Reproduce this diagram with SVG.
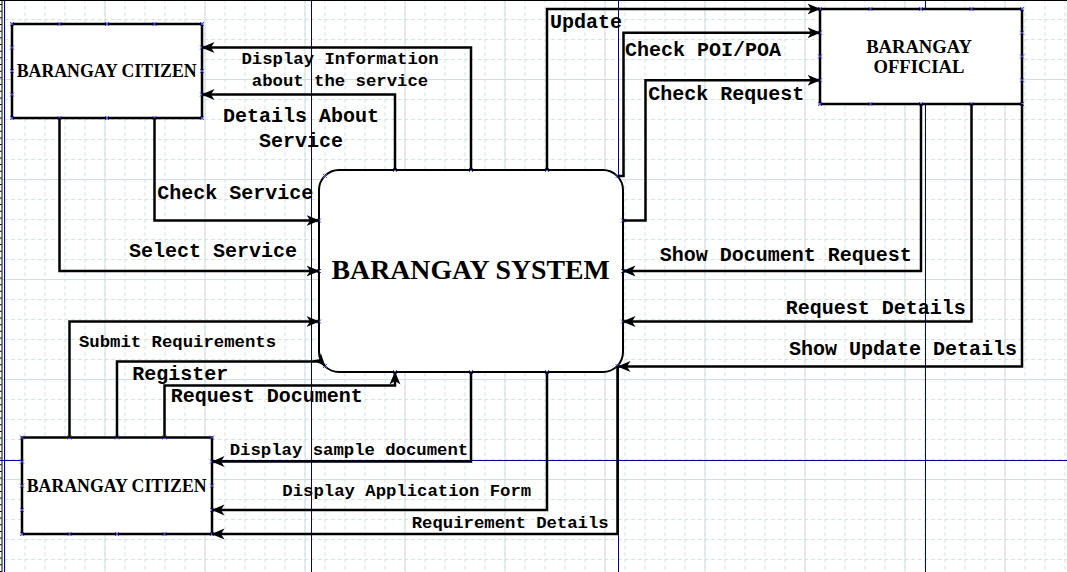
<svg xmlns="http://www.w3.org/2000/svg" width="1067" height="572" viewBox="0 0 1067 572">
<style>
.box{fill:#fff;stroke:#000;stroke-width:2.5}
.sys{fill:#fff;stroke:#000;stroke-width:2}
.nt{font-family:"Liberation Serif","Times New Roman",serif;font-weight:bold;fill:#000;text-anchor:middle}
.cn{fill:none;stroke:#000;stroke-width:2.5;marker-end:url(#ah)}
.lb{font-family:"Liberation Mono","Courier New",monospace;font-weight:bold;fill:#000}
.l20{font-size:20px}
.l17{font-size:17.3px}
.pg{stroke:#0000a0;stroke-width:1;fill:none}
.cp{stroke:#4a4af0;stroke-width:1;fill:none}
</style>
<defs>
<pattern id="minor" patternUnits="userSpaceOnUse" x="4.5" y="19" width="20" height="20">
<path d="M0.5,0 V20 M0,0.5 H20" stroke="#d3e1e1" stroke-width="1" stroke-dasharray="3.67,3" fill="none"/>
</pattern>
<pattern id="major" patternUnits="userSpaceOnUse" x="4.5" y="79" width="100" height="100">
<path d="M0.5,0 V100 M0,0.5 H100" stroke="#d0dfdf" stroke-width="1" fill="none"/>
</pattern>
<marker id="ah" markerUnits="userSpaceOnUse" viewBox="0 0 13 12" markerWidth="13" markerHeight="12" refX="12.5" refY="6" orient="auto">
<path d="M0,0.5 L13,6 L0,11.5 L3.5,6 z" fill="#000"/>
</marker>
<path id="x" class="cp" d="M-2,-2 L2,2 M-2,2 L2,-2"/>
</defs>

<g id="background">
<rect x="0" y="0" width="1067" height="572" fill="#fff"/>
<rect x="0" y="0" width="1067" height="572" fill="url(#minor)"/>
<rect x="0" y="0" width="1067" height="572" fill="url(#major)"/>
<path class="pg" d="M4.5,0 V572 M311.5,0 V572 M618.5,0 V572 M925.5,0 V572 M0,460.5 H1067"/>
<path d="M0,0.5 H1067 M2,0 V572" stroke="#000" stroke-width="1" fill="none"/>
<path d="M0.8,4 V572" stroke="#000" stroke-width="1.6" stroke-dasharray="1,5.67" fill="none"/>
</g>

<g id="citizen-top">
<rect class="box" x="12" y="24" width="190" height="94"/>
<text class="nt" x="106.7" y="77.3" font-size="17.8">BARANGAY CITIZEN</text>
<use href="#x" x="12" y="24"/><use href="#x" x="59.5" y="24"/><use href="#x" x="107" y="24"/><use href="#x" x="154.5" y="24"/><use href="#x" x="202" y="24"/>
<use href="#x" x="12" y="118"/><use href="#x" x="59.5" y="118"/><use href="#x" x="107" y="118"/><use href="#x" x="154.5" y="118"/><use href="#x" x="202" y="118"/>
<use href="#x" x="12" y="47.5"/><use href="#x" x="12" y="71"/><use href="#x" x="12" y="94.5"/>
<use href="#x" x="202" y="47.5"/><use href="#x" x="202" y="71"/><use href="#x" x="202" y="94.5"/>
</g>

<g id="citizen-bottom">
<rect class="box" x="22" y="437.5" width="190" height="96.5"/>
<text class="nt" x="116.7" y="491.7" font-size="17.8">BARANGAY CITIZEN</text>
<use href="#x" x="22" y="437.5"/><use href="#x" x="69.5" y="437.5"/><use href="#x" x="117" y="437.5"/><use href="#x" x="164.5" y="437.5"/><use href="#x" x="212" y="437.5"/>
<use href="#x" x="22" y="534"/><use href="#x" x="69.5" y="534"/><use href="#x" x="117" y="534"/><use href="#x" x="164.5" y="534"/><use href="#x" x="212" y="534"/>
<use href="#x" x="22" y="461.6"/><use href="#x" x="22" y="485.7"/><use href="#x" x="22" y="509.9"/>
<use href="#x" x="212" y="461.6"/><use href="#x" x="212" y="485.7"/><use href="#x" x="212" y="509.9"/>
</g>

<g id="official">
<rect class="box" x="820" y="9" width="202" height="95"/>
<text class="nt" x="919" y="52.7" font-size="18.6">BARANGAY</text>
<text class="nt" x="919" y="73.3" font-size="18.6">OFFICIAL</text>
<use href="#x" x="820" y="9"/><use href="#x" x="870.5" y="9"/><use href="#x" x="921" y="9"/><use href="#x" x="971.5" y="9"/><use href="#x" x="1022" y="9"/>
<use href="#x" x="820" y="104"/><use href="#x" x="870.5" y="104"/><use href="#x" x="921" y="104"/><use href="#x" x="971.5" y="104"/><use href="#x" x="1022" y="104"/>
<use href="#x" x="820" y="32.75"/><use href="#x" x="820" y="56.5"/><use href="#x" x="820" y="80.25"/>
<use href="#x" x="1022" y="32.75"/><use href="#x" x="1022" y="56.5"/><use href="#x" x="1022" y="80.25"/>
</g>

<g id="system">
<rect class="sys" x="319" y="170" width="304" height="202" rx="20" ry="20"/>
<text class="nt" x="470.7" y="279" font-size="27.8">BARANGAY SYSTEM</text>
<use href="#x" x="395" y="170"/><use href="#x" x="471" y="170"/><use href="#x" x="547" y="170"/>
<use href="#x" x="395" y="372"/><use href="#x" x="471" y="372"/><use href="#x" x="547" y="372"/>
<use href="#x" x="319" y="220.5"/><use href="#x" x="319" y="271"/><use href="#x" x="319" y="321.5"/>
<use href="#x" x="623" y="220.5"/><use href="#x" x="623" y="271"/><use href="#x" x="623" y="321.5"/>
<use href="#x" x="325" y="176"/><use href="#x" x="617.5" y="176"/><use href="#x" x="325" y="366"/><use href="#x" x="617.5" y="366"/>
</g>

<g id="connectors">
<path class="cn" d="M471,170 V47.5 H202"/>
<path class="cn" d="M395,170 V94.5 H202"/>
<path class="cn" d="M154.5,118 V220.5 H319"/>
<path class="cn" d="M59.5,118 V271 H319"/>
<path class="cn" d="M69.5,437.5 V321.5 H319"/>
<path class="cn" d="M117,437.5 V361.5 H321 L325,366"/>
<path class="cn" d="M164.5,437.5 V385.5 H395 V372"/>
<path class="cn" d="M471,372 V461.6 H212"/>
<path class="cn" d="M547,372 V509.9 H212"/>
<path class="cn" d="M617.5,366 V534 H212"/>
<path class="cn" d="M547,170 V9 H820"/>
<path class="cn" d="M617.5,176 H623.5 V32.75 H820"/>
<path class="cn" d="M623,220.5 H645.5 V80.25 H820"/>
<path class="cn" d="M921,104 V271 H623"/>
<path class="cn" d="M971.5,104 V321.5 H623"/>
<path class="cn" d="M1022,104 V366.5 H618"/>
</g>

<g id="labels">
<text class="lb l20" x="550" y="28.3">Update</text>
<text class="lb l20" x="625" y="55.7">Check POI/POA</text>
<text class="lb l20" x="648.3" y="100">Check Request</text>
<text class="lb l17" x="340" y="64.3" text-anchor="middle">Display Information</text>
<text class="lb l17" x="340" y="85.7" text-anchor="middle">about the service</text>
<text class="lb l20" x="301" y="121.7" text-anchor="middle">Details About</text>
<text class="lb l20" x="301" y="146.7" text-anchor="middle">Service</text>
<text class="lb l20" x="157.3" y="199.3">Check Service</text>
<text class="lb l20" x="129" y="257.3">Select Service</text>
<text class="lb l17" x="79" y="346.7">Submit Requirements</text>
<text class="lb l20" x="132.3" y="380">Register</text>
<text class="lb l20" x="170.7" y="401.7">Request Document</text>
<text class="lb l17" x="229.7" y="455">Display sample document</text>
<text class="lb l17" x="282.3" y="495.7">Display Application Form</text>
<text class="lb l17" x="411.7" y="527.7">Requirement Details</text>
<text class="lb l20" x="659.7" y="261">Show Document Request</text>
<text class="lb l20" x="785.7" y="314">Request Details</text>
<text class="lb l20" x="789" y="355">Show Update Details</text>
</g>
</svg>
